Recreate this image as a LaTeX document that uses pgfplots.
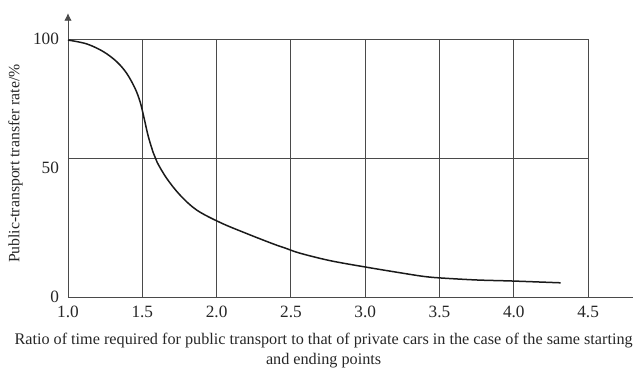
\documentclass[border=0pt]{standalone}
\usepackage{fontspec}
\setmainfont{Liberation Serif}
\usepackage{pgfplots}
\pgfplotsset{compat=1.18}
\usetikzlibrary{arrows.meta}

\definecolor{framegray}{HTML}{4A4A4A}
\definecolor{curveblack}{HTML}{1A1A1A}

\begin{document}
\begin{tikzpicture}
\begin{axis}[
  x=99.07pt, y=1.72pt,
  xmin=1, xmax=4.80, ymin=0, ymax=110,
  axis x line=bottom, axis y line=left,
  axis line style={draw=framegray, line width=0.6pt},
  x axis line style={-},
  y axis line style={-{Latex[length=5pt,width=5pt]}},
  xtick={1,1.5,2,2.5,3,3.5,4,4.5},
  ytick={0,50,100},
  major tick length=0pt,
  tick label style={font=\fontsize{11.5}{13}\selectfont, text=black!85},
  /pgf/number format/assume math mode=true,
  xticklabel style={/pgf/number format/.cd, fixed, fixed zerofill, precision=1, /tikz/.cd, yshift=-2.5pt},
  yticklabel style={xshift=-2.5pt},
  xlabel={Ratio of time required for public transport to that of private cars in the case of the same starting\\and ending points},
  xlabel style={at={(axis cs:2.72,0)}, anchor=north, yshift=-20.5pt, align=center,
    font=\fontsize{10.8}{13.3}\selectfont, text=black!85},
  ylabel={Public-transport transfer rate/\%},
  ylabel style={at={(ticklabel cs:0.47)}, font=\fontsize{10.5}{12}\selectfont, text=black!85},
  clip=false,
]
  \coordinate (O) at (axis cs:1,0);
  % frame and grid
  \pgfplotsinvokeforeach{1.5,2,2.5,3,3.5,4,4.5}{
    \addplot[draw=framegray, line width=0.6pt] coordinates {(#1,0) (#1,100)};
  }
  \addplot[draw=framegray, line width=0.6pt] coordinates {(1,100) (4.5,100)};
  \addplot[draw=framegray, line width=0.6pt] coordinates {(1,53.7) (4.5,53.7)};
  % transfer-rate curve
  \addplot[curveblack, line width=1pt, smooth, tension=0.55] coordinates {
    (1.000,99.6) (1.126,98.1) (1.238,95.1) (1.328,91.2) (1.395,86.7)
    (1.451,80.9) (1.485,75.7) (1.511,69.6) (1.540,62.3) (1.574,55.9)
    (1.600,52.2) (1.664,46.0) (1.754,39.5) (1.866,33.7) (2.027,28.8)
    (2.202,24.6) (2.380,20.6) (2.460,19.0) (2.560,17.0) (2.763,14.1)
    (3.014,11.5) (3.256,9.2) (3.391,8.0) (3.503,7.4) (3.750,6.6)
    (3.990,6.2) (4.315,5.5)
  };
\end{axis}
\pgfresetboundingbox
\path[use as bounding box] (O) ++(-45.33pt,-46.67pt) rectangle ++(422pt,244.67pt);
\end{tikzpicture}
\end{document}
